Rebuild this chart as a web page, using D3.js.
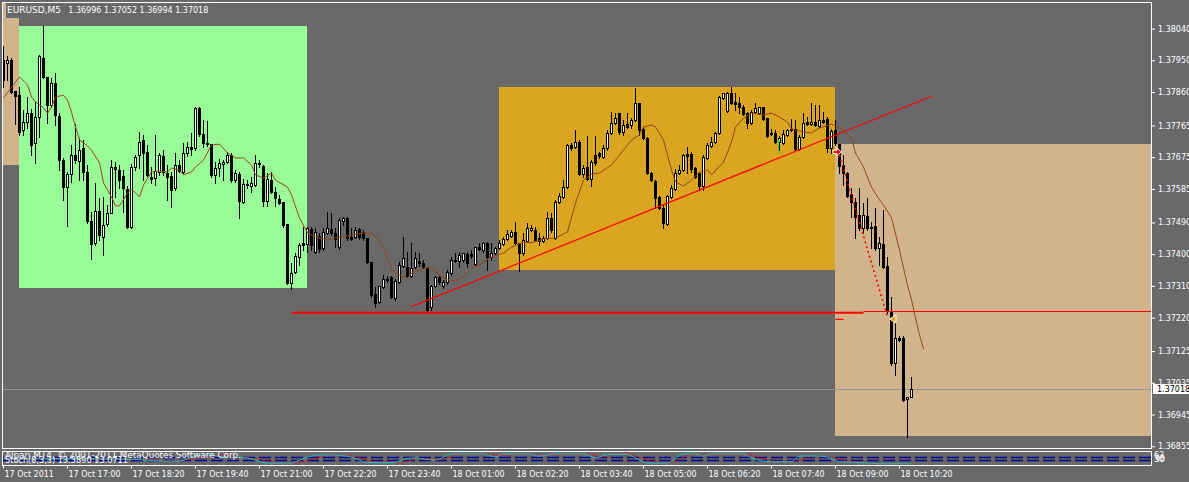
<!DOCTYPE html>
<html><head><meta charset="utf-8">
<script src="https://cdnjs.cloudflare.com/ajax/libs/d3/7.8.5/d3.min.js"></script>
<style>
html,body{margin:0;padding:0;background:#696969;overflow:hidden}
svg{display:block}
text{font-family:"DejaVu Sans",sans-serif;font-size:8px}
</style></head>
<body><svg id="c" width="1189" height="482"></svg>
<script>
// ---------- DATA ----------
const symbolLabel = "EURUSD,M5";
const quoteLabel = "1.36996 1.37052 1.36994 1.37018";
const copyrightLabel = "Alpari MT4, \u00A9 2001-2011 MetaQuotes Software Corp.";
const stochLabel = "Stoch(8,3,3) 13.3890 13.0711";
const timeBars = [0,16,32,48,64,80,96,112,128,144,160,176,192,208,224];
const timeLabels = ["17 Oct 2011","17 Oct 17:00","17 Oct 18:20","17 Oct 19:40","17 Oct 21:00","17 Oct 22:20","17 Oct 23:40","18 Oct 01:00","18 Oct 02:20","18 Oct 03:40","18 Oct 05:00","18 Oct 06:20","18 Oct 07:40","18 Oct 09:00","18 Oct 10:20"];
const priceTicks = [1.38040,1.37950,1.37860,1.37765,1.37675,1.37585,1.37490,1.37400,1.37310,1.37220,1.37125,1.37035,1.36945,1.36855];
const lastPrice = 1.37018;

const open = [1.37951,1.37942,1.37951,1.37863,1.37851,1.37752,1.37775,1.37800,1.37715,1.37789,
1.37956,1.37903,1.37823,1.37886,1.37792,1.37667,1.37590,1.37627,1.37681,1.37664,
1.37701,1.37633,1.37494,1.37432,1.37522,1.37449,1.37486,1.37517,1.37647,1.37639,
1.37622,1.37585,1.37477,1.37647,1.37681,1.37724,1.37690,1.37619,1.37616,1.37633,
1.37678,1.37630,1.37622,1.37588,1.37653,1.37633,1.37687,1.37704,1.37701,1.37815,
1.37741,1.37715,1.37712,1.37625,1.37644,1.37656,1.37661,1.37681,1.37610,1.37627,
1.37548,1.37599,1.37593,1.37596,1.37659,1.37650,1.37551,1.37610,1.37576,1.37556,
1.37548,1.37486,1.37318,1.37349,1.37392,1.37432,1.37429,1.37471,1.37406,1.37451,
1.37417,1.37460,1.37471,1.37460,1.37420,1.37494,1.37503,1.37449,1.37449,1.37471,
1.37463,1.37446,1.37378,1.37287,1.37264,1.37307,1.37329,1.37335,1.37276,1.37321,
1.37366,1.37364,1.37338,1.37364,1.37381,1.37375,1.37361,1.37250,1.37310,1.37335,
1.37310,1.37321,1.37346,1.37381,1.37381,1.37383,1.37400,1.37400,1.37372,1.37420,
1.37412,1.37432,1.37392,1.37403,1.37417,1.37429,1.37443,1.37451,1.37463,1.37432,
1.37403,1.37437,1.37469,1.37469,1.37446,1.37437,1.37446,1.37503,1.37446,1.37548,
1.37562,1.37590,1.37710,1.37704,1.37718,1.37627,1.37647,1.37613,1.37681,1.37687,
1.37676,1.37701,1.37744,1.37772,1.37800,1.37747,1.37769,1.37766,1.37781,1.37829,
1.37755,1.37729,1.37630,1.37608,1.37562,1.37531,1.37486,1.37562,1.37585,1.37630,
1.37639,1.37684,1.37684,1.37644,1.37630,1.37593,1.37673,1.37707,1.37718,1.37744,
1.37843,1.37806,1.37857,1.37832,1.37829,1.37817,1.37800,1.37772,1.37803,1.37800,
1.37817,1.37786,1.37744,1.37744,1.37718,1.37715,1.37738,1.37752,1.37755,1.37698,
1.37732,1.37775,1.37769,1.37775,1.37764,1.37781,1.37783,1.37701,1.37752,1.37712,
1.37653,1.37630,1.37571,1.37548,1.37511,1.37474,1.37508,1.37477,1.37480,1.37417,
1.37429,1.37366,1.37236,1.37091,1.37162,1.37162,1.36989,1.36996];
const high = [1.37991,1.37962,1.37956,1.37863,1.37874,1.37809,1.37846,1.37812,1.37832,1.37965,
1.38047,1.37903,1.37900,1.37914,1.37800,1.37673,1.37633,1.37710,1.37769,1.37729,
1.37724,1.37653,1.37520,1.37602,1.37559,1.37562,1.37539,1.37667,1.37661,1.37653,
1.37639,1.37593,1.37656,1.37681,1.37747,1.37738,1.37710,1.37647,1.37738,1.37687,
1.37695,1.37653,1.37633,1.37687,1.37667,1.37715,1.37718,1.37744,1.37817,1.37817,
1.37781,1.37778,1.37712,1.37661,1.37670,1.37667,1.37690,1.37687,1.37639,1.37633,
1.37613,1.37610,1.37619,1.37681,1.37667,1.37653,1.37630,1.37633,1.37590,1.37568,
1.37548,1.37486,1.37375,1.37403,1.37432,1.37477,1.37477,1.37477,1.37474,1.37460,
1.37474,1.37520,1.37517,1.37474,1.37503,1.37505,1.37505,1.37474,1.37477,1.37474,
1.37469,1.37446,1.37378,1.37307,1.37310,1.37341,1.37338,1.37338,1.37329,1.37378,
1.37449,1.37406,1.37432,1.37406,1.37403,1.37383,1.37364,1.37312,1.37338,1.37338,
1.37327,1.37355,1.37392,1.37403,1.37406,1.37403,1.37406,1.37412,1.37420,1.37432,
1.37434,1.37434,1.37432,1.37420,1.37440,1.37449,1.37469,1.37469,1.37491,1.37432,
1.37460,1.37488,1.37483,1.37477,1.37460,1.37451,1.37520,1.37517,1.37554,1.37573,
1.37610,1.37712,1.37715,1.37752,1.37724,1.37653,1.37735,1.37667,1.37735,1.37690,
1.37710,1.37752,1.37803,1.37800,1.37800,1.37781,1.37800,1.37786,1.37871,1.37829,
1.37761,1.37732,1.37633,1.37610,1.37565,1.37539,1.37568,1.37596,1.37642,1.37653,
1.37684,1.37704,1.37690,1.37647,1.37630,1.37681,1.37715,1.37732,1.37747,1.37849,
1.37857,1.37860,1.37874,1.37857,1.37846,1.37823,1.37803,1.37809,1.37829,1.37817,
1.37817,1.37786,1.37755,1.37752,1.37735,1.37752,1.37755,1.37783,1.37781,1.37738,
1.37800,1.37789,1.37829,1.37823,1.37823,1.37803,1.37789,1.37755,1.37781,1.37712,
1.37681,1.37633,1.37588,1.37559,1.37588,1.37545,1.37559,1.37491,1.37531,1.37449,
1.37525,1.37392,1.37278,1.37222,1.37168,1.37168,1.36995,1.37052];
const low = [1.37874,1.37894,1.37857,1.37769,1.37738,1.37738,1.37758,1.37681,1.37659,1.37732,
1.37900,1.37772,1.37817,1.37766,1.37639,1.37554,1.37480,1.37605,1.37659,1.37610,
1.37610,1.37488,1.37386,1.37426,1.37440,1.37398,1.37480,1.37517,1.37562,1.37588,
1.37520,1.37474,1.37474,1.37639,1.37644,1.37610,1.37622,1.37602,1.37596,1.37625,
1.37625,1.37554,1.37534,1.37582,1.37633,1.37630,1.37678,1.37681,1.37695,1.37735,
1.37704,1.37707,1.37619,1.37602,1.37622,1.37610,1.37659,1.37605,1.37605,1.37503,
1.37545,1.37588,1.37576,1.37593,1.37647,1.37537,1.37537,1.37573,1.37537,1.37542,
1.37477,1.37315,1.37301,1.37346,1.37369,1.37412,1.37406,1.37412,1.37403,1.37406,
1.37412,1.37457,1.37454,1.37420,1.37415,1.37483,1.37440,1.37440,1.37446,1.37443,
1.37440,1.37375,1.37278,1.37250,1.37261,1.37304,1.37321,1.37276,1.37270,1.37318,
1.37364,1.37335,1.37335,1.37361,1.37366,1.37361,1.37239,1.37242,1.37307,1.37315,
1.37304,1.37315,1.37341,1.37378,1.37364,1.37378,1.37364,1.37389,1.37369,1.37412,
1.37406,1.37355,1.37383,1.37400,1.37415,1.37426,1.37440,1.37449,1.37426,1.37352,
1.37398,1.37434,1.37466,1.37437,1.37426,1.37434,1.37443,1.37463,1.37443,1.37545,
1.37559,1.37588,1.37695,1.37701,1.37625,1.37619,1.37610,1.37593,1.37653,1.37673,
1.37673,1.37695,1.37741,1.37769,1.37741,1.37738,1.37758,1.37758,1.37778,1.37738,
1.37727,1.37627,1.37608,1.37531,1.37528,1.37474,1.37483,1.37559,1.37582,1.37627,
1.37636,1.37630,1.37633,1.37616,1.37582,1.37582,1.37670,1.37704,1.37715,1.37741,
1.37840,1.37803,1.37826,1.37809,1.37800,1.37795,1.37758,1.37769,1.37800,1.37798,
1.37781,1.37732,1.37738,1.37715,1.37695,1.37712,1.37735,1.37749,1.37695,1.37695,
1.37729,1.37766,1.37766,1.37764,1.37761,1.37772,1.37690,1.37687,1.37710,1.37630,
1.37596,1.37562,1.37505,1.37446,1.37469,1.37460,1.37469,1.37417,1.37412,1.37369,
1.37361,1.37233,1.37086,1.37057,1.37154,1.36983,1.36881,1.36994];
const close = [1.37894,1.37951,1.37860,1.37849,1.37747,1.37775,1.37800,1.37710,1.37789,1.37962,
1.37903,1.37823,1.37886,1.37795,1.37667,1.37590,1.37627,1.37681,1.37667,1.37695,
1.37633,1.37494,1.37429,1.37522,1.37454,1.37483,1.37517,1.37647,1.37642,1.37610,
1.37588,1.37477,1.37647,1.37676,1.37718,1.37687,1.37625,1.37613,1.37636,1.37681,
1.37633,1.37619,1.37582,1.37653,1.37636,1.37687,1.37704,1.37698,1.37815,1.37741,
1.37715,1.37712,1.37625,1.37644,1.37659,1.37661,1.37681,1.37610,1.37630,1.37551,
1.37599,1.37596,1.37602,1.37659,1.37656,1.37551,1.37613,1.37576,1.37559,1.37545,
1.37483,1.37318,1.37346,1.37395,1.37426,1.37426,1.37474,1.37426,1.37463,1.37415,
1.37463,1.37474,1.37460,1.37443,1.37497,1.37503,1.37446,1.37443,1.37469,1.37449,
1.37446,1.37378,1.37284,1.37261,1.37310,1.37329,1.37327,1.37278,1.37324,1.37369,
1.37389,1.37338,1.37361,1.37389,1.37375,1.37364,1.37242,1.37310,1.37335,1.37321,
1.37321,1.37349,1.37383,1.37383,1.37398,1.37403,1.37375,1.37395,1.37420,1.37415,
1.37432,1.37392,1.37403,1.37417,1.37432,1.37443,1.37457,1.37463,1.37432,1.37403,
1.37440,1.37474,1.37474,1.37440,1.37437,1.37446,1.37503,1.37469,1.37548,1.37565,
1.37590,1.37710,1.37701,1.37718,1.37627,1.37644,1.37613,1.37661,1.37659,1.37678,
1.37701,1.37744,1.37772,1.37786,1.37747,1.37766,1.37761,1.37781,1.37829,1.37752,
1.37729,1.37630,1.37610,1.37559,1.37531,1.37488,1.37565,1.37588,1.37630,1.37639,
1.37681,1.37678,1.37642,1.37619,1.37593,1.37676,1.37710,1.37718,1.37744,1.37846,
1.37857,1.37857,1.37829,1.37826,1.37817,1.37798,1.37772,1.37803,1.37815,1.37817,
1.37783,1.37735,1.37741,1.37718,1.37729,1.37741,1.37752,1.37755,1.37698,1.37732,
1.37772,1.37769,1.37775,1.37766,1.37781,1.37775,1.37701,1.37749,1.37715,1.37650,
1.37630,1.37565,1.37548,1.37505,1.37474,1.37511,1.37474,1.37474,1.37417,1.37432,
1.37364,1.37242,1.37091,1.37162,1.37156,1.36986,1.36995,1.37018];

const maBars = [0,4,6,7,8,10,11,12,13,15,16,17,18,19,21,22,24,25,27,28,29,31,32,34,35,37,39,41,42,44,45,47,48,50,52,54,56,58,60,62,63,65,67,68,71,72,74,76,78,81,83,87,90,92,94,96,97,99,101,102,105,107,109,111,113,115,117,119,122,125,127,130,132,135,138,141,143,145,147,149,152,154,157,159,160,162,163,165,166,167,168,170,172,174,176,177,180,182,183,185,187,190,192,194,196,197,200,202,204,207,210,212,213,215,217,219,220,222,224,225,226,227,228,229,230];
const maValues = [1.37843,1.37903,1.37880,1.37846,1.37832,1.37815,1.37800,1.37817,1.37846,1.37851,1.37837,1.37803,1.37761,1.37724,1.37707,1.37695,1.37659,1.37602,1.37562,1.37537,1.37537,1.37573,1.37585,1.37562,1.37596,1.37633,1.37636,1.37633,1.37644,1.37639,1.37625,1.37633,1.37647,1.37667,1.37710,1.37712,1.37687,1.37673,1.37673,1.37653,1.37625,1.37616,1.37630,1.37610,1.37590,1.37568,1.37503,1.37460,1.37449,1.37440,1.37446,1.37454,1.37460,1.37460,1.37440,1.37392,1.37355,1.37341,1.37332,1.37346,1.37361,1.37361,1.37341,1.37327,1.37324,1.37335,1.37361,1.37369,1.37392,1.37403,1.37420,1.37434,1.37432,1.37443,1.37446,1.37463,1.37545,1.37610,1.37627,1.37630,1.37653,1.37681,1.37724,1.37738,1.37761,1.37766,1.37761,1.37724,1.37681,1.37639,1.37605,1.37593,1.37610,1.37633,1.37639,1.37625,1.37661,1.37718,1.37761,1.37786,1.37800,1.37795,1.37800,1.37789,1.37775,1.37755,1.37747,1.37744,1.37758,1.37769,1.37752,1.37729,1.37687,1.37647,1.37590,1.37554,1.37539,1.37503,1.37412,1.37361,1.37312,1.37270,1.37219,1.37171,1.37131];

const stochBars = [0,7,14,22,29,35,40,44,48,51,55,61,66,72,74,79,83,87,91,97,102,108,112,120,123,125,131,134,138,145,148,151,156,158,161,166,168,170,173,175,177,185,187,192,197,199,203,206,209,214,219,227];
const stochMain = [54,52,50,48,45,40,30,30,70,77,62,54,15,15,38,77,77,60,20,18,54,38,85,85,62,85,85,69,85,85,54,80,80,54,15,15,54,85,85,69,85,85,54,25,25,69,69,62,25,20,10,10];
const signalBars = [0,8,16,24,31,37,42,46,50,54,58,63,68,73,77,81,85,89,93,99,104,110,114,121,125,128,133,136,140,146,150,153,157,160,163,167,170,172,175,178,186,189,194,198,201,205,208,211,216,220,227];
const stochSignal = [56,53,50,47,44,40,32,40,65,72,60,48,22,18,45,72,74,55,25,22,48,50,80,82,72,82,82,74,82,82,62,76,74,45,22,22,60,80,78,80,80,58,30,30,60,65,50,30,20,12,12];
const stochLevels = [65,38];
const stochScaleLabels = ["63","30","90"];

// chart objects: rectangles (bar from/to, price high/low)
const zoneFrom = [-10,4,124,208];
const zoneTo = [4,76,208,320];
const zoneHigh = [1.38200,1.38047,1.37875,1.37712];
const zoneLow = [1.37654,1.37304,1.37355,1.36884];
// horizontal / trend lines (bar1, price1, bar2, price2)
const hlineBar1 = [72,215], hlineBar2 = [215,320], hlinePrice = [1.37234,1.37237];
const trendBar1 = 102, trendPrice1 = 1.37251, trendBar2 = 232, trendPrice2 = 1.37848;
const dotBar1 = 209, dotPrice1 = 1.37681, dotBar2 = 221, dotPrice2 = 1.37222;
const sellArrowBar = 208, sellArrowPrice = 1.37690;
const exitArrowBar = 222, exitArrowPrice = 1.37216;
const upArrowBar = 194, upArrowTop = 1.37724, upArrowBottom = 1.37687;
const dashBar1 = 208, dashBar2 = 210, dashPrice = 1.37215;

// ---------- DRAW ----------
const svg = d3.select('#c');
const x = d3.scaleLinear().domain([0, 1]).range([3.5, 7.5]);
const y = d3.scaleLinear().domain([1.38121, 1.36855]).range([0, 446.25]);
const ys = d3.scaleLinear().domain([0, 100]).range([465, 452]);
const R = Math.round;

svg.append('rect').attr('width',1189).attr('height',482).attr('fill','#696969');
const defs = svg.append('defs');
defs.append('clipPath').attr('id','clip').append('rect').attr('x',3).attr('y',3).attr('width',1148).attr('height',445);
defs.append('clipPath').attr('id','clip2').append('rect').attr('x',3).attr('y',452).attr('width',1148).attr('height',13);

const g = svg.append('g').attr('clip-path','url(#clip)');
const zoneFill = ['#D2B48C','#98FB98','#DAA520','#D2B48C'];
g.selectAll('rect.zone').data(d3.range(zoneFrom.length)).join('rect')
  .attr('x', i => Math.floor(x(zoneFrom[i])))
  .attr('width', i => Math.floor(x(zoneTo[i])) - Math.floor(x(zoneFrom[i])))
  .attr('y', i => R(y(zoneHigh[i])))
  .attr('height', i => R(y(zoneLow[i])) - R(y(zoneHigh[i])))
  .attr('fill', (i) => zoneFill[i]).attr('shape-rendering','crispEdges');

// header background box
svg.append('rect').attr('x',6).attr('y',3).attr('width',206).attr('height',15).attr('fill','#696969');

// bid line
g.append('line').attr('x1',3).attr('x2',1151).attr('y1',R(y(lastPrice))+0.5).attr('y2',R(y(lastPrice))+0.5)
  .attr('stroke','#8e96a0').attr('stroke-width',1);

// candles
const bars = d3.range(open.length);
const cg = g.append('g').attr('shape-rendering','crispEdges');
cg.selectAll('rect.w').data(bars).join('rect')
  .attr('x', i => x(i) - 0.5).attr('width', 1)
  .attr('y', i => R(y(high[i])))
  .attr('height', i => Math.max(1, R(y(low[i])) - R(y(high[i])) + 1))
  .attr('fill', '#000');
cg.selectAll('rect.b').data(bars).join('rect')
  .attr('x', i => x(i) - 1.5).attr('width', 3)
  .attr('y', i => R(y(Math.max(open[i], close[i]))))
  .attr('height', i => Math.max(1, R(y(Math.min(open[i], close[i]))) - R(y(Math.max(open[i], close[i]))) + 1))
  .attr('fill', '#000');
cg.selectAll('rect.i').data(bars.filter(i => close[i] > open[i] && R(y(open[i])) - R(y(close[i])) >= 2)).join('rect')
  .attr('x', i => x(i) - 0.5).attr('width', 1)
  .attr('y', i => R(y(close[i])) + 1)
  .attr('height', i => R(y(open[i])) - R(y(close[i])) - 1)
  .attr('fill', '#fff');

// moving average
const maPts = maBars.map((b, k) => [b, maValues[k]]);
g.append('path').attr('d', d3.line().x(d => x(d[0])).y(d => y(d[1]))(maPts))
  .attr('fill','none').attr('stroke','#9a4418').attr('stroke-width',1);

// horizontal red lines
g.append('line').attr('x1', x(hlineBar1[0])).attr('x2', x(hlineBar2[0]))
  .attr('y1', y(hlinePrice[0])).attr('y2', y(hlinePrice[0])).attr('stroke','#ff0000').attr('stroke-width',2);
g.append('line').attr('x1', x(hlineBar1[1])).attr('x2', x(hlineBar2[1]))
  .attr('y1', R(y(hlinePrice[1]))-0.5).attr('y2', R(y(hlinePrice[1]))-0.5).attr('stroke','#ff0000').attr('stroke-width',1);
// trend line
g.append('line').attr('x1', x(trendBar1)).attr('y1', y(trendPrice1)).attr('x2', x(trendBar2)).attr('y2', y(trendPrice2))
  .attr('stroke','#ff0000').attr('stroke-width',1.2);
// dotted line
g.append('line').attr('x1', x(dotBar1)).attr('y1', y(dotPrice1)).attr('x2', x(dotBar2)).attr('y2', y(dotPrice2))
  .attr('stroke','#ff0000').attr('stroke-width',1.6).attr('stroke-dasharray','2,3');
// short dash
g.append('line').attr('x1', x(dashBar1)).attr('x2', x(dashBar2)).attr('y1', y(dashPrice)).attr('y2', y(dashPrice))
  .attr('stroke','#ff0000').attr('stroke-width',1.3);
// sell arrow (red, pointing right)
g.append('path').attr('transform', `translate(${x(sellArrowBar)+1.5},${y(sellArrowPrice)})`)
  .attr('d','M-4,-1.6H0V-4.2L4.2,0L0,4.2V1.6H-4Z').attr('fill','#ff0000').attr('stroke','#fff').attr('stroke-width',1);
// exit arrow (gold triangle pointing left)
g.append('path').attr('transform', `translate(${x(exitArrowBar)+1.5},${y(exitArrowPrice)})`)
  .attr('d','M3,-4L-3.5,0L3,4Z').attr('fill','#DAA520').attr('stroke','#fff').attr('stroke-width',1);
// green up arrow
g.append('line').attr('x1', x(upArrowBar)-1).attr('x2', x(upArrowBar)-1)
  .attr('y1', y(upArrowTop)).attr('y2', y(upArrowBottom)).attr('stroke','#22dd22').attr('stroke-width',1);
g.append('path').attr('transform', `translate(${x(upArrowBar)-1},${y(upArrowTop)})`)
  .attr('d','M-1.5,2L0,0L1.5,2').attr('fill','none').attr('stroke','#22dd22').attr('stroke-width',1);

// ---------- price axis ----------
const pAxis = d3.axisRight(y).tickValues(priceTicks).tickFormat(d3.format('.5f')).tickSize(3).tickPadding(3);
const pa = svg.append('g').attr('transform','translate(1152,0)').call(pAxis);
pa.select('.domain').remove();
pa.selectAll('line').attr('stroke','#fff');
pa.selectAll('text').attr('fill','#fff').style('font-family','DejaVu Sans').style('font-size','8px');

// last price box
const lp = R(y(lastPrice));
svg.append('rect').attr('x',1153).attr('y',lp-5).attr('width',36).attr('height',10).attr('fill','#fff');
svg.append('text').attr('x',1157).attr('y',lp+3).attr('fill','#000').text(d3.format('.5f')(lastPrice));

// ---------- indicator panel ----------
const ig = svg.append('g').attr('clip-path','url(#clip2)');
ig.selectAll('line.lvl').data(stochLevels).join('line')
  .attr('x1',3).attr('x2',1151).attr('y1', d => R(ys(d))+0.5).attr('y2', d => R(ys(d))+0.5)
  .attr('stroke','#000090').attr('stroke-width',1.3).attr('stroke-dasharray','12,4');
ig.append('path').attr('d', d3.line().x(d => x(d[0])).y(d => ys(d[1])).curve(d3.curveMonotoneX)(signalBars.map((b,k)=>[b,stochSignal[k]])))
  .attr('fill','none').attr('stroke','#ff0000').attr('stroke-width',1.2).attr('stroke-dasharray','2,2');
ig.append('path').attr('d', d3.line().x(d => x(d[0])).y(d => ys(d[1])).curve(d3.curveMonotoneX)(stochBars.map((b,k)=>[b,stochMain[k]])))
  .attr('fill','none').attr('stroke','#20c0c0').attr('stroke-width',1);

svg.append('text').attr('x',5).attr('y',458).attr('fill','#fff').attr('textLength',236).attr('lengthAdjust','spacingAndGlyphs').text(copyrightLabel);
svg.append('text').attr('x',5).attr('y',462.5).attr('fill','#fff').attr('textLength',123).attr('lengthAdjust','spacingAndGlyphs').text(stochLabel);
svg.append('text').attr('x',1154).attr('y',458).attr('fill','#fff').text(stochScaleLabels[0]);
svg.append('text').attr('x',1154).attr('y',462).attr('fill','#fff').text(stochScaleLabels[1]);
svg.append('text').attr('x',1155).attr('y',462).attr('fill','#fff').text(stochScaleLabels[2]);

// ---------- time axis ----------
const tAxis = d3.axisBottom(x).tickValues(timeBars).tickFormat((d, k) => timeLabels[k]).tickSize(3).tickPadding(3.3).offset(0);
const ta = svg.append('g').attr('transform','translate(0,465.5)').call(tAxis);
ta.select('.domain').remove();
ta.selectAll('line').attr('stroke','#fff').attr('transform','translate(0,0)');
ta.selectAll('text').attr('fill','#fff').attr('text-anchor','start').attr('x',1).style('font-family','DejaVu Sans').style('font-size','8px');

// ---------- frames ----------
const fr = svg.append('g').attr('fill','none').attr('stroke','#fff').attr('stroke-width',1).attr('shape-rendering','crispEdges');
fr.append('rect').attr('x',2.5).attr('y',2.5).attr('width',1149).attr('height',446);
fr.append('rect').attr('x',2.5).attr('y',451.5).attr('width',1149).attr('height',14);

// header
svg.append('text').attr('x',7).attr('y',13.3).attr('fill','#fff').attr('textLength',54).attr('lengthAdjust','spacingAndGlyphs').text(symbolLabel);
svg.append('text').attr('x',68.3).attr('y',13.3).attr('fill','#fff').text(quoteLabel);
</script></body></html>
